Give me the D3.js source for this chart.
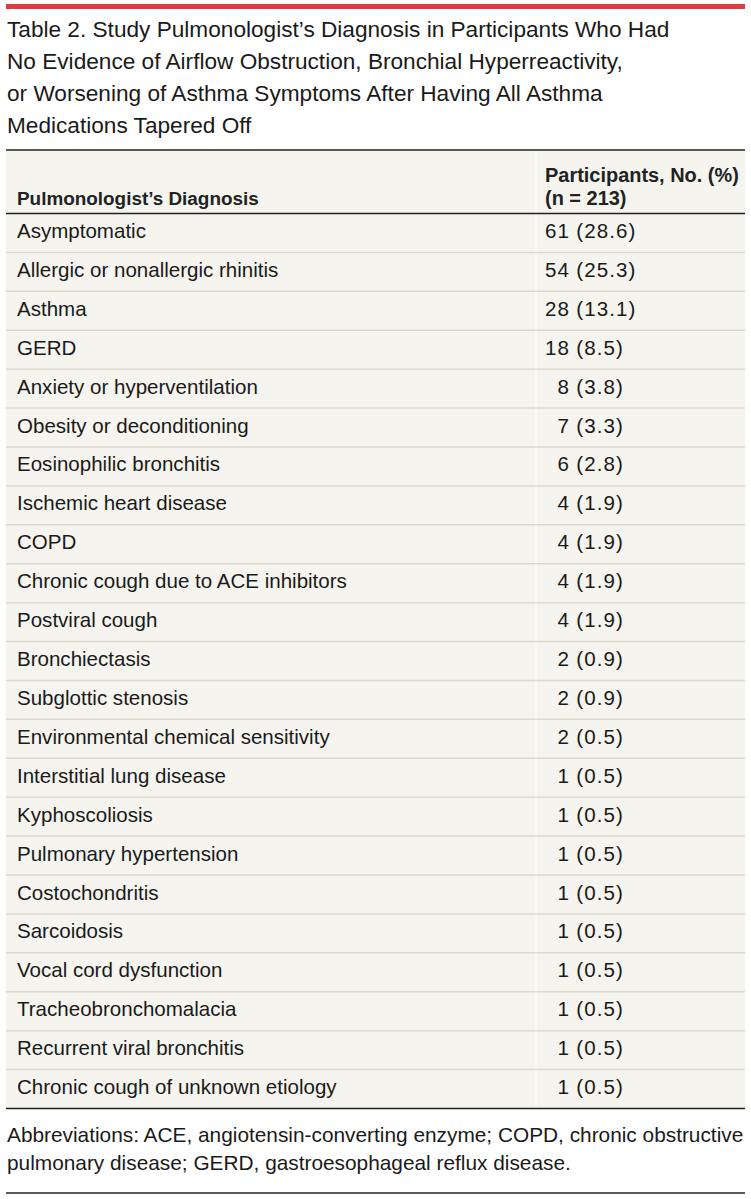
<!DOCTYPE html>
<html>
<head>
<meta charset="utf-8">
<script src="https://cdn.jsdelivr.net/npm/d3@7/dist/d3.min.js"></script>
<style>
  html, body { margin: 0; padding: 0; background: #ffffff; }
  svg { display: block; }
</style>
</head>
<body>
<svg id="chart" width="751" height="1199"></svg>
<script>
// ---------------- data ----------------
const titleLines = [
  "Table 2. Study Pulmonologist\u2019s Diagnosis in Participants Who Had",
  "No Evidence of Airflow Obstruction, Bronchial Hyperreactivity,",
  "or Worsening of Asthma Symptoms After Having All Asthma",
  "Medications Tapered Off"
];
const columnHeaders = ["Pulmonologist\u2019s Diagnosis", "Participants, No. (%)", "(n = 213)"];
const diagnoses = [
  "Asymptomatic",
  "Allergic or nonallergic rhinitis",
  "Asthma",
  "GERD",
  "Anxiety or hyperventilation",
  "Obesity or deconditioning",
  "Eosinophilic bronchitis",
  "Ischemic heart disease",
  "COPD",
  "Chronic cough due to ACE inhibitors",
  "Postviral cough",
  "Bronchiectasis",
  "Subglottic stenosis",
  "Environmental chemical sensitivity",
  "Interstitial lung disease",
  "Kyphoscoliosis",
  "Pulmonary hypertension",
  "Costochondritis",
  "Sarcoidosis",
  "Vocal cord dysfunction",
  "Tracheobronchomalacia",
  "Recurrent viral bronchitis",
  "Chronic cough of unknown etiology"
];
const counts = [61, 54, 28, 18, 8, 7, 6, 4, 4, 4, 4, 2, 2, 2, 1, 1, 1, 1, 1, 1, 1, 1, 1];
const percents = ["28.6", "25.3", "13.1", "8.5", "3.8", "3.3", "2.8", "1.9", "1.9", "1.9", "1.9",
                  "0.9", "0.9", "0.5", "0.5", "0.5", "0.5", "0.5", "0.5", "0.5", "0.5", "0.5", "0.5"];
const footnoteLines = [
  "Abbreviations: ACE, angiotensin-converting enzyme; COPD, chronic obstructive",
  "pulmonary disease; GERD, gastroesophageal reflux disease."
];

// ---------------- layout ----------------
const FONT = "'Liberation Sans', Arial, sans-serif";
const svg = d3.select("#chart");
const left = 6, right = 745;
const textX = 17, valX = 545, colDiv = 536;
const tableTop = 150, headBottom = 213.5, tableBottom = 1108.5;
const numSpacing = 1.1;

// measurement helper to size fonts to the reference's text widths
const meas = svg.append("text").attr("font-family", FONT).attr("visibility", "hidden");
function width(txt, size, weight, ls) {
  meas.attr("font-size", size).attr("font-weight", weight || "normal")
    .attr("letter-spacing", ls || 0).text(txt);
  return meas.node().getComputedTextLength();
}
function fit(txt, target, weight) {
  return 100 * target / width(txt, 100, weight);
}
const titleSize = fit(titleLines[0], 663);
const bodySize = fit(diagnoses[9], 330);
const headSize = fit(columnHeaders[0], 242, "bold");
const head2Size = fit(columnHeaders[1], 194, "bold");
const footSize = fit(footnoteLines[0], 737);
const twoDigits = width("00", bodySize, "normal", numSpacing);
meas.remove();

// red top bar
svg.append("rect").attr("x", left).attr("y", 4).attr("width", right - left).attr("height", 5)
  .attr("fill", "#e2383f");

// title
svg.append("g").selectAll("text").data(titleLines).join("text")
  .attr("x", 7)
  .attr("y", (d, i) => 36.5 + i * 32)
  .attr("font-family", FONT)
  .attr("font-size", titleSize)
  .attr("fill", "#1a1a1a")
  .text(d => d);

// table background
svg.append("rect").attr("x", left).attr("y", tableTop).attr("width", right - left)
  .attr("height", tableBottom - tableTop).attr("fill", "#f5f4ee");
svg.append("line").attr("x1", colDiv).attr("x2", colDiv).attr("y1", tableTop).attr("y2", tableBottom)
  .attr("stroke", "#fcfbf8").attr("stroke-width", 1.2);

// header
const hdr = svg.append("g").attr("font-family", FONT)
  .attr("font-weight", "bold").attr("fill", "#222222");
hdr.append("text").attr("x", textX).attr("y", 204.5).attr("font-size", headSize).text(columnHeaders[0]);
hdr.append("text").attr("x", valX).attr("y", 181.5).attr("font-size", head2Size).text(columnHeaders[1]);
hdr.append("text").attr("x", valX).attr("y", 204.5).attr("font-size", head2Size).text(columnHeaders[2]);

// rows
const y = d3.scaleBand().domain(d3.range(diagnoses.length)).range([headBottom, tableBottom]).padding(0);
const rows = svg.append("g").selectAll("g").data(diagnoses).join("g")
  .attr("transform", (d, i) => `translate(0,${y(i)})`);

rows.filter((d, i) => i < diagnoses.length - 1).append("line")
  .attr("x1", left).attr("x2", right)
  .attr("y1", y.bandwidth()).attr("y2", y.bandwidth())
  .attr("stroke", "#dcd9cf").attr("stroke-width", 1.5);

rows.append("text")
  .attr("x", textX).attr("y", 24.5)
  .attr("font-family", FONT).attr("font-size", bodySize).attr("fill", "#1a1a1a")
  .text(d => d);

// numbers: counts right-aligned on a shared digit column
const countEnd = valX + twoDigits;
rows.append("text")
  .attr("x", countEnd).attr("y", 24.5).attr("text-anchor", "end")
  .attr("font-family", FONT).attr("font-size", bodySize).attr("letter-spacing", numSpacing)
  .attr("fill", "#1a1a1a")
  .text((d, i) => counts[i]);
rows.append("text")
  .attr("x", countEnd + bodySize * 0.3).attr("y", 24.5)
  .attr("font-family", FONT).attr("font-size", bodySize).attr("letter-spacing", numSpacing)
  .attr("fill", "#1a1a1a")
  .text((d, i) => `(${percents[i]})`);

// rules
[tableTop, headBottom, tableBottom, 1193].forEach(yy => {
  svg.append("line").attr("x1", left).attr("x2", right).attr("y1", yy).attr("y2", yy)
    .attr("stroke", "#222222").attr("stroke-width", 1.6);
});

// footnote
svg.append("g").selectAll("text").data(footnoteLines).join("text")
  .attr("x", 7)
  .attr("y", (d, i) => 1142 + i * 28)
  .attr("font-family", FONT)
  .attr("font-size", footSize)
  .attr("fill", "#1a1a1a")
  .text(d => d);
</script>
</body>
</html>
